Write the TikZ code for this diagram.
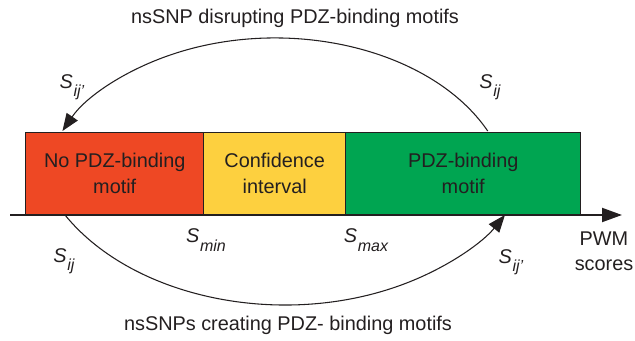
\documentclass[tikz,border=0pt]{standalone}
\usepackage{fontspec}
\setmainfont{Liberation Sans}
\usetikzlibrary{arrows.meta}
\definecolor{motifred}{HTML}{EE4824}
\definecolor{motifyellow}{HTML}{FDD03F}
\definecolor{motifgreen}{HTML}{00A551}
\definecolor{inkgray}{HTML}{231F20}
\newcommand{\pwmscore}[1]{{\itshape S\kern0.5pt\raisebox{-0.8ex}{\fontsize{12}{12}\selectfont #1}}}
\tikzset{every node/.style={font=\fontsize{14.9}{19}\selectfont, text=inkgray},
 region/.style={draw=inkgray, line width=1.1pt, anchor=south west,
   minimum height=61.5pt, align=center, inner sep=0pt},
 transition/.style={draw=inkgray, line width=0.8pt,
   -{Triangle[length=13pt,width=10pt]}},
 scoreaxis/.style={draw=inkgray, line width=1.5pt,
   -{Triangle[length=15pt,width=10.5pt]}},
 }

\begin{document}
\begin{tikzpicture}[x=0.75pt,y=0.75pt]
        \useasboundingbox (0,0) rectangle (635,341);
        \coordinate (axisstart) at (10,126);
        \coordinate (axisend) at (622,126);
        \draw[scoreaxis] (axisstart) -- (axisend);
        \node[region, fill=motifred, minimum width=133.5pt] (nobind) at (25,126) {No PDZ-binding\\motif};
        \node[region, fill=motifyellow, minimum width=106.5pt] (confint) at (203,126) {Confidence\\interval};
        \node[region, fill=motifgreen, minimum width=176.25pt] (pdzbind) at (345,126) {PDZ-binding\\motif};
        % arcs between the regions
        \coordinate (lossstart) at (487.7,210);
        \coordinate (gainstart) at (65,126);
        \draw[transition] (lossstart) arc[start angle=25.2, end angle=154.8, x radius=235, y radius=162];
        \draw[transition] (gainstart) arc[start angle=210, end angle=330, x radius=254, y radius=180];
        \node (losstitle) at (295,323) {nsSNP disrupting PDZ-binding motifs};
        \node (gaintitle) at (288,16) {nsSNPs creating PDZ- binding motifs};
        \node (lossto) at (72,254) {\pwmscore{ij’}};
        \node (lossfrom) at (490,254) {\pwmscore{ij}};
        \node (gainfrom) at (64,80) {\pwmscore{ij}};
        \node (gainto) at (511,79) {\pwmscore{ij’}};
        \node (smin) at (206,101) {\pwmscore{min}};
        \node (smax) at (366,101) {\pwmscore{max}};
        \node[align=center] (pwm) at (604,90) {PWM\\scores};
\end{tikzpicture}
\end{document}
